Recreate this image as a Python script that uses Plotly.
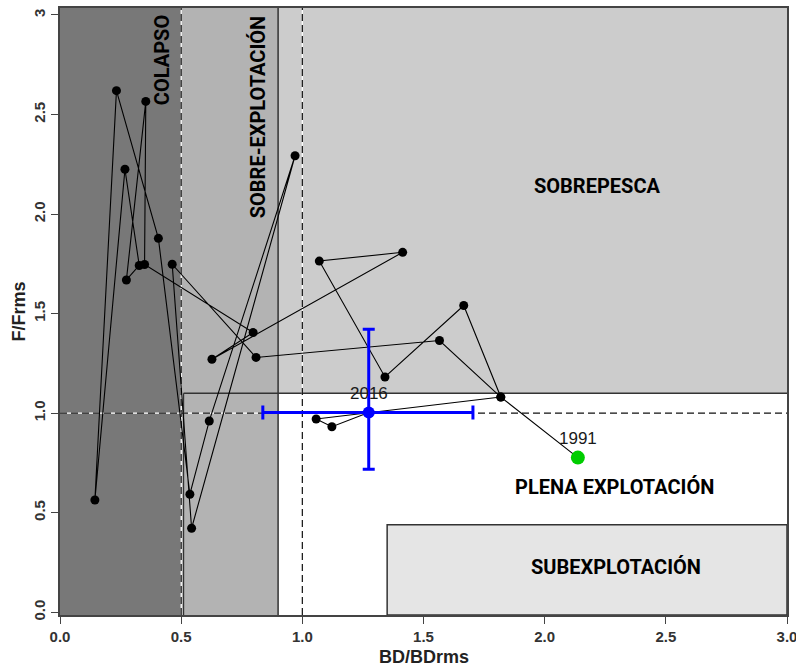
import plotly.graph_objects as go

# ---- data (trajectory in time order, 1991 -> 2016) ----
bd = [2.137, 1.819, 1.666, 1.341, 1.070, 1.414, 0.627, 0.797, 0.349, 0.354,
      0.274, 0.327, 0.268, 0.144, 0.233, 0.406, 0.536, 0.616, 0.970, 0.543,
      0.463, 0.809, 1.566, 1.819, 1.057, 1.122, 1.274]
f_ratio = [0.777, 1.081, 1.541, 1.182, 1.764, 1.808, 1.271, 1.405, 1.747, 2.566,
           1.669, 1.742, 2.225, 0.564, 2.620, 1.878, 0.593, 0.961, 2.293, 0.422,
           1.748, 1.280, 1.365, 1.081, 0.971, 0.932, 1.003]
first_year = "1991"
last_year = "2016"
# uncertainty of the last year
err_bd_minus = [0.437]
err_bd_plus = [0.430]
err_f_minus = [0.285]
err_f_plus = [0.418]

x_ticks = [0, 0.5, 1.0, 1.5, 2.0, 2.5, 3.0]
x_ticktext = ["0.0", "0.5", "1.0", "1.5", "2.0", "2.5", "3.0"]
y_ticks = [0, 0.5, 1.0, 1.5, 2.0, 2.5, 3.0]
y_ticktext = ["0.0", "0.5", "1.0", "1.5", "2.0", "2.5", "3"]

YMIN, YMAX = -0.0136, 3.035
EDGE = "#333333"

fig = go.Figure()

# trajectory
fig.add_trace(go.Scatter(
    x=bd, y=f_ratio, mode="lines+markers",
    line=dict(color="black", width=1.1),
    marker=dict(color="black", size=9),
    hoverinfo="skip", showlegend=False))

# first year (green)
fig.add_trace(go.Scatter(
    x=[bd[0]], y=[f_ratio[0]], mode="markers",
    marker=dict(color="#00cd00", size=14),
    showlegend=False))

# last year with error bars (blue)
fig.add_trace(go.Scatter(
    x=[bd[-1]], y=[f_ratio[-1]], mode="markers",
    marker=dict(color="#0000ff", size=12),
    error_x=dict(type="data", symmetric=False, array=err_bd_plus,
                 arrayminus=err_bd_minus, color="#0000ff", thickness=3, width=7),
    error_y=dict(type="data", symmetric=False, array=err_f_plus,
                 arrayminus=err_f_minus, color="#0000ff", thickness=3, width=6),
    showlegend=False))

shapes = []
def rect(x0, x1, y0, y1, fill, lw=0):
    shapes.append(dict(type="rect", xref="x", yref="y", x0=x0, x1=x1, y0=y0, y1=y1,
                       fillcolor=fill, line=dict(color=EDGE, width=lw), layer="below"))
def seg(x0, x1, y0, y1, color=EDGE, width=1.5, dash="solid"):
    shapes.append(dict(type="line", xref="x", yref="y", x0=x0, x1=x1, y0=y0, y1=y1,
                       line=dict(color=color, width=width, dash=dash), layer="below"))

rect(0, 0.5, YMIN, YMAX, "#787878")          # colapso
rect(0.5, 3.0, 1.1, YMAX, "#cccccc")         # sobrepesca
rect(0.5, 0.9, YMIN, YMAX, "#b3b3b3")        # sobre-explotacion
rect(1.35, 3.0, YMIN, 0.44, "#e5e5e5", 1.5)  # subexplotacion
seg(0.9, 0.9, YMIN, YMAX)
seg(0.51, 3.0, 1.1, 1.1)
seg(0.51, 0.51, YMIN, 1.1, width=1.2)
# dashed reference lines (white under black dashes)
for (x0, x1, y0, y1) in [(0.5, 0.5, YMIN, YMAX), (1.0, 1.0, YMIN, YMAX), (0, 3, 1.0, 1.0)]:
    seg(x0, x1, y0, y1, color="white", width=1.2)
    seg(x0, x1, y0, y1, color="#111111", width=1.2, dash="7px,4px")

region_font = dict(family="Roboto", size=20, color="black")
ann = [
    dict(x=0.4216, y=2.774, text="<b>COLAPSO</b>", textangle=-90),
    dict(x=0.817, y=2.486, text="<b>SOBRE-EXPLOTACIÓN</b>", textangle=-90),
    dict(x=2.216, y=2.139, text="<b>SOBREPESCA</b>"),
    dict(x=2.29, y=0.63, text="<b>PLENA EXPLOTACIÓN</b>"),
    dict(x=2.296, y=0.225, text="<b>SUBEXPLOTACIÓN</b>"),
]
annotations = []
for a in ann:
    a.update(xref="x", yref="y", showarrow=False, font=region_font,
             xanchor="center", yanchor="middle")
    annotations.append(a)

year_font = dict(family="Liberation Sans", size=17, color="#1a1a1a")
annotations.append(dict(x=bd[0], y=f_ratio[0], text=first_year, showarrow=False,
                        yshift=19, font=year_font, xref="x", yref="y"))
annotations.append(dict(x=bd[-1], y=f_ratio[-1], text=last_year, showarrow=False,
                        yshift=19, font=year_font, xref="x", yref="y"))

title_font = dict(family="Liberation Sans", size=18, color="#222222")
annotations.append(dict(xref="paper", yref="paper", x=0.5, y=0, yshift=-42,
                        text="<b>BD/BDrms</b>", showarrow=False, font=title_font,
                        xanchor="center", yanchor="middle"))
annotations.append(dict(xref="paper", yref="paper", x=0, y=0.5, xshift=-42,
                        text="<b>F/Frms</b>", showarrow=False, font=title_font, textangle=-90,
                        xanchor="center", yanchor="middle"))

tick_font = dict(family="Liberation Sans", size=15, color="#333333")
fig.update_layout(
    width=796, height=666,
    margin=dict(l=60, r=9, t=8, b=51, autoexpand=False),
    paper_bgcolor="white", plot_bgcolor="white",
    shapes=shapes, annotations=annotations,
    xaxis=dict(range=[0, 3], tickvals=x_ticks,
               ticktext=["<b>%s</b>" % t for t in x_ticktext],
               showgrid=False, zeroline=False, showline=True, mirror=True,
               linecolor="#444444", linewidth=1.5, ticks="outside", ticklen=7,
               tickcolor="#444444", tickfont=tick_font, ticklabeloverflow="allow",
               automargin=False),
    yaxis=dict(range=[YMIN, YMAX], tickvals=y_ticks,
               ticktext=["<b>%s</b>" % t for t in y_ticktext],
               showgrid=False, zeroline=False, showline=True, mirror=True,
               linecolor="#444444", linewidth=1.5, ticks="outside", ticklen=7,
               tickcolor="#444444", tickfont=tick_font, tickangle=-90,
               ticklabeloverflow="allow", automargin=False),
)

fig.write_html("out.html")
